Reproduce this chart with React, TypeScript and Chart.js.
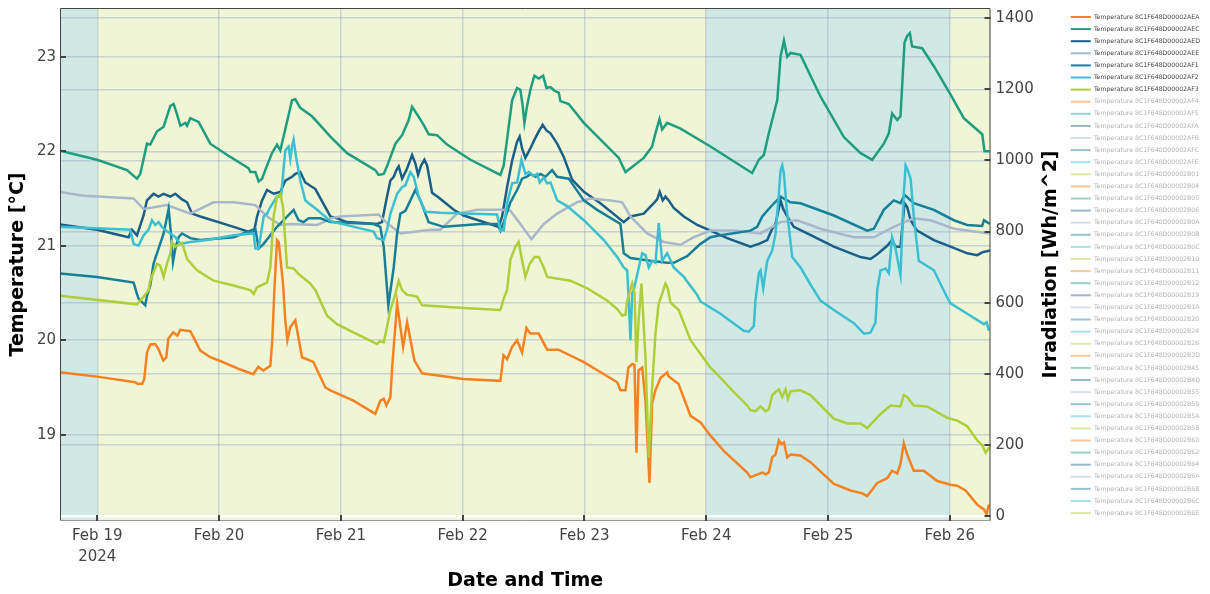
import React, { useEffect, useRef } from 'react';
import { Chart, registerables } from 'chart.js';

Chart.register(...registerables);

const FONT = "'DejaVu Sans', Verdana, sans-serif";

// ---------- data ----------
const sensorIds = [
  '8C1F648D00002AEA', '8C1F648D00002AEC', '8C1F648D00002AED', '8C1F648D00002AEE', '8C1F648D00002AF1',
  '8C1F648D00002AF2', '8C1F648D00002AF3', '8C1F648D00002AF4', '8C1F648D00002AF5', '8C1F648D00002AFA',
  '8C1F648D00002AFB', '8C1F648D00002AFC', '8C1F648D00002AFE', '8C1F648D00002B01', '8C1F648D00002B04',
  '8C1F648D00002B05', '8C1F648D00002B06', '8C1F648D00002B0A', '8C1F648D00002B0B', '8C1F648D00002B0C',
  '8C1F648D00002B10', '8C1F648D00002B11', '8C1F648D00002B12', '8C1F648D00002B19', '8C1F648D00002B1A',
  '8C1F648D00002B20', '8C1F648D00002B24', '8C1F648D00002B26', '8C1F648D00002B3D', '8C1F648D00002B45',
  '8C1F648D00002B4D', '8C1F648D00002B55', '8C1F648D00002B59', '8C1F648D00002B5A', '8C1F648D00002B5B',
  '8C1F648D00002B60', '8C1F648D00002B62', '8C1F648D00002B64', '8C1F648D00002B6A', '8C1F648D00002B6B',
  '8C1F648D00002B6C', '8C1F648D00002B6E',
];

const seriesColors = ['#f58220', '#1f9e7f', '#1a5f88', '#a9b7cb', '#177f98', '#3cbfd3', '#aecf3a'];
const fadedColors = [
  'rgba(245,130,32,0.45)', 'rgba(31,158,127,0.45)', 'rgba(26,95,136,0.45)', 'rgba(169,183,203,0.45)',
  'rgba(23,127,152,0.45)', 'rgba(60,191,211,0.45)', 'rgba(174,207,58,0.45)',
];

// [day of Feb 2024 (fractional), temperature °C]
const tempAEA: [number, number][] = [
  [18.694, 19.66], [18.998, 19.615], [19.312, 19.555], [19.329, 19.54], [19.370, 19.54], [19.386, 19.59],
  [19.408, 19.87], [19.435, 19.955], [19.476, 19.96], [19.501, 19.91], [19.542, 19.785], [19.567, 19.82],
  [19.583, 20.015], [19.624, 20.085], [19.657, 20.05], [19.682, 20.11], [19.764, 20.095], [19.846, 19.89],
  [19.928, 19.82], [20.010, 19.78], [20.175, 19.69], [20.281, 19.64], [20.322, 19.72], [20.363, 19.68],
  [20.421, 19.73], [20.437, 20.0], [20.454, 20.53], [20.476, 21.06], [20.490, 21.04], [20.525, 20.6],
  [20.544, 20.21], [20.561, 20.0], [20.585, 20.14], [20.626, 20.21], [20.681, 19.82], [20.774, 19.77],
  [20.873, 19.50], [20.914, 19.47], [21.103, 19.36], [21.283, 19.22], [21.324, 19.36], [21.352, 19.38],
  [21.374, 19.31], [21.407, 19.40], [21.421, 19.71], [21.462, 20.39], [21.511, 19.93], [21.544, 20.19],
  [21.604, 19.785], [21.667, 19.65], [22.006, 19.59], [22.310, 19.57], [22.335, 19.84], [22.365, 19.80],
  [22.406, 19.93], [22.447, 20.0], [22.488, 19.87], [22.524, 20.13], [22.556, 20.07], [22.625, 20.07],
  [22.694, 19.90], [22.786, 19.90], [22.992, 19.77], [23.269, 19.555], [23.296, 19.47], [23.337, 19.47],
  [23.361, 19.71], [23.392, 19.75], [23.411, 19.74], [23.427, 18.81], [23.444, 19.68], [23.474, 19.71],
  [23.501, 19.36], [23.534, 18.49], [23.556, 19.33], [23.583, 19.47], [23.624, 19.60], [23.679, 19.66],
  [23.690, 19.62], [23.772, 19.54], [23.871, 19.20], [23.953, 19.13], [24.035, 18.99], [24.144, 18.83],
  [24.336, 18.60], [24.363, 18.55], [24.460, 18.60], [24.487, 18.58], [24.514, 18.60], [24.542, 18.76],
  [24.569, 18.79], [24.596, 18.94], [24.616, 18.90], [24.638, 18.92], [24.665, 18.76], [24.692, 18.79],
  [24.774, 18.78], [24.856, 18.71], [25.048, 18.48], [25.185, 18.41], [25.281, 18.38], [25.322, 18.35],
  [25.404, 18.49], [25.486, 18.54], [25.526, 18.62], [25.568, 18.59], [25.595, 18.69], [25.622, 18.91],
  [25.650, 18.79], [25.704, 18.62], [25.786, 18.62], [25.897, 18.51], [26.006, 18.47], [26.061, 18.46],
  [26.129, 18.41], [26.225, 18.26], [26.280, 18.21], [26.302, 18.16], [26.321, 18.26],
];

const tempAEC: [number, number][] = [
  [18.694, 22.006], [18.998, 21.91], [19.244, 21.80], [19.326, 21.71], [19.353, 21.76], [19.408, 22.08],
  [19.435, 22.07], [19.490, 22.21], [19.545, 22.26], [19.600, 22.48], [19.627, 22.50], [19.655, 22.39],
  [19.682, 22.27], [19.723, 22.30], [19.737, 22.27], [19.764, 22.35], [19.832, 22.31], [19.928, 22.08],
  [20.092, 21.94], [20.243, 21.82], [20.257, 21.78], [20.298, 21.78], [20.325, 21.68], [20.353, 21.71],
  [20.394, 21.85], [20.435, 21.98], [20.476, 22.07], [20.503, 22.01], [20.536, 22.19], [20.599, 22.54],
  [20.626, 22.55], [20.667, 22.46], [20.763, 22.37], [20.914, 22.155], [21.051, 21.98], [21.283, 21.80],
  [21.310, 21.75], [21.352, 21.76], [21.379, 21.84], [21.448, 22.08], [21.503, 22.17], [21.557, 22.33],
  [21.585, 22.47], [21.626, 22.39], [21.680, 22.28], [21.721, 22.18], [21.790, 22.17], [21.872, 22.07],
  [22.064, 21.91], [22.310, 21.75], [22.337, 21.85], [22.406, 22.54], [22.447, 22.67], [22.474, 22.65],
  [22.493, 22.48], [22.507, 22.30], [22.529, 22.48], [22.556, 22.65], [22.589, 22.80], [22.625, 22.77],
  [22.661, 22.80], [22.688, 22.67], [22.721, 22.68], [22.754, 22.64], [22.789, 22.62], [22.803, 22.53],
  [22.871, 22.50], [22.995, 22.30], [23.282, 21.93], [23.337, 21.78], [23.378, 21.82], [23.487, 21.93],
  [23.556, 22.05], [23.583, 22.19], [23.616, 22.34], [23.638, 22.23], [23.679, 22.30], [23.789, 22.24],
  [24.035, 22.05], [24.363, 21.78], [24.377, 21.77], [24.432, 21.91], [24.473, 21.96], [24.514, 22.19],
  [24.555, 22.40], [24.583, 22.54], [24.610, 23.00], [24.638, 23.17], [24.665, 23.00], [24.692, 23.04],
  [24.774, 23.02], [24.938, 22.58], [25.130, 22.15], [25.267, 21.98], [25.363, 21.91], [25.458, 22.08],
  [25.499, 22.19], [25.526, 22.40], [25.568, 22.33], [25.595, 22.37], [25.628, 23.15], [25.650, 23.22],
  [25.672, 23.25], [25.690, 23.11], [25.773, 23.09], [25.869, 22.90], [26.006, 22.60], [26.115, 22.35],
  [26.266, 22.18], [26.285, 22.0], [26.329, 22.0],
];

const tempAED: [number, number][] = [
  [18.694, 21.225], [18.998, 21.17], [19.257, 21.09], [19.285, 21.17], [19.326, 21.11], [19.380, 21.32],
  [19.408, 21.48], [19.462, 21.55], [19.503, 21.52], [19.545, 21.55], [19.600, 21.52], [19.641, 21.55],
  [19.696, 21.49], [19.737, 21.46], [19.778, 21.34], [19.846, 21.31], [20.120, 21.20], [20.284, 21.13],
  [20.312, 21.31], [20.353, 21.48], [20.394, 21.59], [20.448, 21.55], [20.503, 21.57], [20.544, 21.69],
  [20.599, 21.73], [20.626, 21.76], [20.667, 21.78], [20.708, 21.67], [20.791, 21.60], [20.914, 21.31],
  [20.969, 21.29], [21.051, 21.25], [21.297, 21.23], [21.338, 21.25], [21.379, 21.52], [21.407, 21.69],
  [21.434, 21.73], [21.456, 21.80], [21.475, 21.84], [21.503, 21.71], [21.538, 21.80], [21.585, 21.96],
  [21.612, 21.87], [21.634, 21.75], [21.659, 21.85], [21.686, 21.91], [21.708, 21.85], [21.749, 21.56],
  [21.803, 21.51], [21.927, 21.38], [22.009, 21.32], [22.296, 21.20], [22.324, 21.31], [22.365, 21.62],
  [22.406, 21.90], [22.447, 22.10], [22.468, 22.155], [22.488, 22.03], [22.515, 21.93], [22.556, 22.03],
  [22.589, 22.12], [22.625, 22.21], [22.657, 22.28], [22.688, 22.22], [22.721, 22.19], [22.776, 22.08],
  [22.830, 21.94], [22.899, 21.70], [22.995, 21.57], [23.131, 21.45], [23.323, 21.25], [23.378, 21.31],
  [23.487, 21.34], [23.569, 21.45], [23.597, 21.49], [23.618, 21.57], [23.643, 21.48], [23.665, 21.52],
  [23.692, 21.48], [23.733, 21.40], [23.816, 21.31], [23.926, 21.22], [24.035, 21.16], [24.172, 21.08],
  [24.363, 20.99], [24.432, 21.02], [24.501, 21.06], [24.542, 21.18], [24.569, 21.23], [24.610, 21.48],
  [24.632, 21.39], [24.665, 21.31], [24.719, 21.20], [24.829, 21.13], [25.048, 20.99], [25.267, 20.88],
  [25.349, 20.86], [25.404, 20.91], [25.486, 21.00], [25.526, 21.06], [25.554, 20.99], [25.595, 20.99],
  [25.628, 21.45], [25.650, 21.41], [25.678, 21.27], [25.731, 21.16], [25.869, 21.06], [26.006, 20.99],
  [26.143, 20.92], [26.225, 20.90], [26.266, 20.93], [26.329, 20.95],
];

const tempAEE: [number, number][] = [
  [18.694, 21.57], [18.888, 21.53], [19.298, 21.50], [19.380, 21.39], [19.572, 21.43], [19.764, 21.34],
  [19.955, 21.46], [20.120, 21.46], [20.298, 21.43], [20.394, 21.31], [20.503, 21.22], [20.585, 21.23],
  [20.805, 21.22], [20.859, 21.25], [20.914, 21.29], [20.996, 21.31], [21.310, 21.33], [21.379, 21.24],
  [21.489, 21.13], [21.735, 21.17], [21.817, 21.17], [21.954, 21.34], [22.119, 21.38], [22.310, 21.38],
  [22.392, 21.37], [22.474, 21.23], [22.565, 21.07], [22.666, 21.23], [22.776, 21.34], [22.940, 21.46],
  [23.049, 21.50], [23.214, 21.48], [23.310, 21.46], [23.378, 21.31], [23.515, 21.13], [23.651, 21.04],
  [23.789, 21.01], [23.898, 21.09], [24.035, 21.16], [24.226, 21.16], [24.446, 21.13], [24.610, 21.25],
  [24.747, 21.27], [24.938, 21.18], [25.212, 21.09], [25.376, 21.09], [25.540, 21.20], [25.704, 21.29],
  [25.842, 21.27], [26.033, 21.18], [26.329, 21.13],
];

const tempAF1: [number, number][] = [
  [18.694, 20.705], [18.998, 20.67], [19.298, 20.61], [19.326, 20.49], [19.339, 20.44], [19.394, 20.37],
  [19.408, 20.47], [19.435, 20.58], [19.462, 20.81], [19.490, 20.92], [19.545, 21.13], [19.586, 21.39],
  [19.605, 21.13], [19.622, 20.83], [19.641, 20.97], [19.668, 21.09], [19.696, 21.13], [19.764, 21.08],
  [19.846, 21.06], [20.120, 21.09], [20.298, 21.18], [20.325, 20.97], [20.366, 21.02], [20.476, 21.20],
  [20.530, 21.27], [20.612, 21.38], [20.653, 21.27], [20.694, 21.25], [20.736, 21.29], [20.832, 21.29],
  [20.914, 21.25], [21.269, 21.23], [21.324, 21.20], [21.352, 20.99], [21.390, 20.37], [21.434, 20.77],
  [21.462, 21.13], [21.489, 21.34], [21.530, 21.37], [21.571, 21.48], [21.612, 21.59], [21.653, 21.48],
  [21.694, 21.34], [21.721, 21.25], [21.844, 21.20], [22.146, 21.23], [22.283, 21.23], [22.310, 21.16],
  [22.337, 21.25], [22.392, 21.46], [22.447, 21.59], [22.488, 21.71], [22.529, 21.73], [22.556, 21.76],
  [22.598, 21.73], [22.639, 21.76], [22.680, 21.73], [22.735, 21.80], [22.776, 21.73], [22.871, 21.71],
  [22.995, 21.48], [23.104, 21.38], [23.296, 21.23], [23.323, 20.92], [23.378, 20.87], [23.542, 20.84],
  [23.679, 20.82], [23.733, 20.82], [23.843, 20.89], [23.953, 21.02], [24.035, 21.09], [24.117, 21.11],
  [24.363, 21.16], [24.418, 21.20], [24.460, 21.31], [24.528, 21.41], [24.610, 21.52], [24.692, 21.46],
  [24.774, 21.45], [25.048, 21.32], [25.322, 21.16], [25.376, 21.18], [25.458, 21.38], [25.540, 21.48],
  [25.595, 21.45], [25.628, 21.54], [25.704, 21.45], [25.869, 21.38], [26.033, 21.27], [26.143, 21.22],
  [26.266, 21.21], [26.280, 21.27], [26.329, 21.23],
];

const tempAF2: [number, number][] = [
  [18.694, 21.20], [19.271, 21.17], [19.298, 21.02], [19.339, 21.00], [19.380, 21.11], [19.421, 21.17],
  [19.449, 21.27], [19.476, 21.22], [19.503, 21.25], [19.531, 21.20], [19.564, 21.16], [19.600, 21.13],
  [19.641, 21.09], [19.682, 21.02], [19.764, 21.04], [19.901, 21.06], [20.120, 21.11], [20.284, 21.13],
  [20.298, 20.97], [20.325, 20.97], [20.366, 21.31], [20.394, 21.34], [20.421, 21.41], [20.476, 21.52],
  [20.509, 21.52], [20.544, 22.01], [20.571, 22.05], [20.585, 21.92], [20.599, 22.05], [20.612, 22.12],
  [20.632, 21.94], [20.667, 21.69], [20.708, 21.48], [20.736, 21.45], [20.805, 21.38], [20.914, 21.26],
  [21.269, 21.15], [21.297, 21.08], [21.352, 21.06], [21.379, 21.17], [21.407, 21.34], [21.462, 21.55],
  [21.503, 21.62], [21.530, 21.64], [21.571, 21.78], [21.598, 21.73], [21.639, 21.52], [21.694, 21.36],
  [21.817, 21.35], [22.009, 21.34], [22.283, 21.33], [22.310, 21.16], [22.337, 21.16], [22.365, 21.45],
  [22.406, 21.66], [22.447, 21.67], [22.483, 21.91], [22.515, 21.76], [22.543, 21.78], [22.584, 21.74],
  [22.611, 21.76], [22.633, 21.67], [22.666, 21.72], [22.694, 21.66], [22.721, 21.67], [22.776, 21.48],
  [22.858, 21.42], [22.995, 21.27], [23.159, 21.06], [23.269, 20.88], [23.323, 20.77], [23.351, 20.74],
  [23.364, 20.40], [23.378, 20.0], [23.392, 20.5], [23.405, 20.53], [23.446, 20.77], [23.474, 20.92],
  [23.501, 20.90], [23.528, 20.77], [23.556, 20.84], [23.583, 20.82], [23.610, 21.24], [23.638, 20.84],
  [23.679, 20.92], [23.706, 20.85], [23.733, 20.77], [23.816, 20.67], [23.926, 20.48], [23.953, 20.41],
  [24.117, 20.28], [24.308, 20.10], [24.349, 20.09], [24.391, 20.15], [24.404, 20.42], [24.432, 20.71],
  [24.446, 20.74], [24.468, 20.55], [24.501, 20.84], [24.542, 20.95], [24.569, 21.13], [24.596, 21.55],
  [24.610, 21.80], [24.624, 21.85], [24.638, 21.76], [24.659, 21.41], [24.678, 21.20], [24.706, 20.88],
  [24.774, 20.77], [24.856, 20.59], [24.938, 20.42], [25.048, 20.32], [25.212, 20.18], [25.295, 20.07],
  [25.349, 20.08], [25.390, 20.19], [25.404, 20.53], [25.431, 20.74], [25.472, 20.76], [25.499, 20.71],
  [25.526, 21.09], [25.554, 20.97], [25.595, 20.69], [25.622, 21.55], [25.637, 21.85], [25.655, 21.80],
  [25.678, 21.71], [25.704, 21.31], [25.745, 20.84], [25.869, 20.74], [25.979, 20.45], [26.006, 20.39],
  [26.143, 20.28], [26.280, 20.17], [26.302, 20.19], [26.321, 20.10],
];

const tempAF3: [number, number][] = [
  [18.694, 20.47], [19.326, 20.38], [19.367, 20.44], [19.421, 20.53], [19.435, 20.63], [19.490, 20.81],
  [19.517, 20.79], [19.545, 20.67], [19.572, 20.81], [19.600, 20.92], [19.614, 21.04], [19.641, 20.99],
  [19.696, 21.03], [19.737, 20.86], [19.819, 20.74], [19.955, 20.63], [20.120, 20.58], [20.257, 20.53],
  [20.284, 20.49], [20.312, 20.56], [20.394, 20.61], [20.421, 20.77], [20.448, 21.31], [20.476, 21.52],
  [20.503, 21.55], [20.525, 21.41], [20.558, 20.77], [20.612, 20.76], [20.653, 20.70], [20.749, 20.60],
  [20.791, 20.53], [20.887, 20.26], [20.914, 20.23], [20.969, 20.17], [21.078, 20.10], [21.187, 20.03],
  [21.297, 19.96], [21.319, 19.99], [21.352, 19.98], [21.379, 20.14], [21.407, 20.32], [21.448, 20.49],
  [21.475, 20.63], [21.503, 20.53], [21.544, 20.48], [21.598, 20.47], [21.626, 20.46], [21.667, 20.37],
  [22.009, 20.34], [22.310, 20.32], [22.337, 20.44], [22.365, 20.53], [22.392, 20.85], [22.433, 20.99],
  [22.460, 21.04], [22.483, 20.88], [22.515, 20.67], [22.551, 20.81], [22.589, 20.88], [22.625, 20.88],
  [22.666, 20.77], [22.694, 20.67], [22.885, 20.63], [23.022, 20.55], [23.186, 20.42], [23.269, 20.33],
  [23.310, 20.26], [23.337, 20.27], [23.351, 20.42], [23.392, 20.6], [23.411, 20.5], [23.427, 19.77],
  [23.446, 20.24], [23.468, 20.6], [23.501, 19.82], [23.528, 18.76], [23.556, 19.50], [23.583, 20.07],
  [23.610, 20.39], [23.638, 20.49], [23.665, 20.60], [23.684, 20.55], [23.706, 20.40], [23.774, 20.32],
  [23.871, 20.00], [23.953, 19.855], [24.035, 19.71], [24.090, 19.64], [24.213, 19.47], [24.336, 19.31],
  [24.363, 19.26], [24.404, 19.25], [24.446, 19.30], [24.487, 19.25], [24.514, 19.27], [24.542, 19.42],
  [24.596, 19.48], [24.624, 19.40], [24.651, 19.48], [24.670, 19.38], [24.692, 19.46], [24.774, 19.47],
  [24.856, 19.42], [25.048, 19.17], [25.158, 19.12], [25.267, 19.12], [25.322, 19.07], [25.431, 19.22],
  [25.513, 19.31], [25.595, 19.30], [25.622, 19.42], [25.650, 19.40], [25.704, 19.31], [25.814, 19.30],
  [25.979, 19.18], [26.061, 19.15], [26.143, 19.09], [26.225, 18.94], [26.266, 18.89], [26.294, 18.81],
  [26.329, 18.87],
];

const xTickValues = [19, 20, 21, 22, 23, 24, 25, 26];
const xTickLabels: (string | string[])[] = [
  ['Feb 19', '2024'], 'Feb 20', 'Feb 21', 'Feb 22', 'Feb 23', 'Feb 24', 'Feb 25', 'Feb 26',
];
const tempTicks = [19, 20, 21, 22, 23];
const irrTicks = [0, 200, 400, 600, 800, 1000, 1200, 1400];

// background shading bands (day of Feb)
const shadeStarts = [18.694, 19, 24, 26];
const shadeEnds = [19, 24, 26, 26.334];
const shadeColors = ['#d0e9e4', '#f0f5d6', '#d0e9e4', '#f0f5d6'];

const X_MIN = 18.694;
const X_MAX = 26.334;
const T_MIN = 18.087;
const T_MAX = 23.516;
const I_MIN = -14;
const I_MAX = 1428.7;

const PAD_R = 0;
const PLOT_RIGHT = 990.5;

const GRID = 'rgba(150,165,190,0.42)';

const zeroPad = (s: any) => {
  s.paddingTop = 0;
  s.paddingBottom = 0;
  s.paddingLeft = 0;
  s.paddingRight = 0;
};

export default function App() {
  const ref = useRef<HTMLCanvasElement>(null);

  useEffect(() => {
    const mainSeries = [tempAEA, tempAEC, tempAED, tempAEE, tempAF1, tempAF2, tempAF3];
    const datasets = sensorIds.map((id, i) => {
      const col = i < 7 ? seriesColors[i] : fadedColors[i % 7];
      return {
        label: 'Temperature ' + id,
        data: i < 7 ? mainSeries[i].map(([x, y]) => ({ x, y })) : [],
        borderColor: col,
        backgroundColor: col,
        borderWidth: 2.5,
        pointRadius: 0,
        tension: 0,
        yAxisID: 'y',
        order: 100 - i,
      };
    });

    const decor = {
      id: 'decor',
      beforeDraw(chart: any) {
        const { ctx, chartArea: a, scales } = chart;
        ctx.save();
        for (let i = 0; i < shadeStarts.length; i++) {
          const x0 = scales.x.getPixelForValue(shadeStarts[i]);
          const x1 = scales.x.getPixelForValue(shadeEnds[i]);
          ctx.fillStyle = shadeColors[i];
          ctx.fillRect(x0, a.top, x1 - x0, a.bottom - a.top);
        }
        ctx.restore();
      },
      afterDraw(chart: any) {
        const { ctx, chartArea: a, scales } = chart;
        ctx.save();
        // frame
        ctx.lineWidth = 1;
        ctx.strokeStyle = '#444';
        ctx.beginPath();
        ctx.moveTo(a.left + 0.5, a.bottom);
        ctx.lineTo(a.left + 0.5, a.top + 0.5);
        ctx.lineTo(a.right - 0.5, a.top + 0.5);
        ctx.lineTo(a.right - 0.5, a.bottom);
        ctx.stroke();
        ctx.strokeStyle = '#999';
        ctx.beginPath();
        ctx.moveTo(a.left, a.bottom - 0.5);
        ctx.lineTo(a.right, a.bottom - 0.5);
        ctx.stroke();
        // inside tick marks
        ctx.strokeStyle = '#444';
        ctx.lineWidth = 2;
        ctx.beginPath();
        for (const v of tempTicks) {
          const y = Math.round(scales.y.getPixelForValue(v));
          ctx.moveTo(a.left, y);
          ctx.lineTo(a.left + 6, y);
        }
        for (const v of irrTicks) {
          const y = Math.round(scales.y1.getPixelForValue(v));
          ctx.moveTo(a.right - 6, y);
          ctx.lineTo(a.right, y);
        }
        for (const v of xTickValues) {
          const x = Math.round(scales.x.getPixelForValue(v));
          ctx.moveTo(x, a.bottom);
          ctx.lineTo(x, a.bottom - 6);
        }
        ctx.stroke();
        // right axis title (reads bottom-to-top)
        ctx.translate(a.right + 60.5, (a.top + a.bottom) / 2);
        ctx.rotate(-Math.PI / 2);
        ctx.font = `bold 19px ${FONT}`;
        ctx.fillStyle = '#000';
        ctx.textAlign = 'center';
        ctx.textBaseline = 'middle';
        ctx.fillText('Irradiation [Wh/m^2]', 0, 0);
        ctx.restore();
      },
    };

    const chart = new Chart(ref.current as HTMLCanvasElement, {
      type: 'line',
      data: { datasets: datasets as any },
      plugins: [decor],
      options: {
        responsive: false,
        animation: false,
        parsing: true,
        layout: { padding: { top: 8, left: 0, right: PAD_R, bottom: 0 } },
        plugins: {
          tooltip: { enabled: false },
          legend: {
            position: 'right',
            align: 'start',
            labels: {
              boxWidth: 20,
              boxHeight: 2,
              padding: 5.9,
              font: { family: FONT, size: 6.2 },
              generateLabels: (c: any) =>
                c.data.datasets.map((ds: any, i: number) => ({
                  text: ds.label,
                  fillStyle: ds.borderColor,
                  strokeStyle: ds.borderColor,
                  lineWidth: 0,
                  hidden: false,
                  datasetIndex: i,
                  fontColor: i < 7 ? '#444' : '#b2b2b2',
                })),
            },
          },
        },
        scales: {
          x: {
            type: 'linear',
            position: 'bottom',
            min: X_MIN,
            max: X_MAX,
            afterFit: (s: any) => { s.height = 73; zeroPad(s); },
            afterBuildTicks: (s: any) => { s.ticks = xTickValues.map((v) => ({ value: v })); },
            grid: { color: GRID, lineWidth: 1.5, drawTicks: false },
            border: { display: false },
            ticks: {
              autoSkip: false,
              maxRotation: 0,
              padding: 5,
              color: '#444',
              font: { family: FONT, size: 15, lineHeight: 1.38 },
              callback: (v: any) => {
                const idx = xTickValues.indexOf(Number(v));
                return idx >= 0 ? xTickLabels[idx] : '';
              },
            },
            title: {
              display: true,
              text: 'Date and Time',
              color: '#000',
              font: { family: FONT, size: 19, weight: 'bold' },
              padding: { top: 0, bottom: 2 },
            },
          },
          y: {
            type: 'linear',
            position: 'left',
            min: T_MIN,
            max: T_MAX,
            afterFit: (s: any) => { s.width = 60; zeroPad(s); },
            afterBuildTicks: (s: any) => { s.ticks = tempTicks.map((v) => ({ value: v })); },
            grid: { color: GRID, lineWidth: 1.5, drawTicks: false },
            border: { display: false },
            ticks: {
              padding: 4,
              color: '#444',
              font: { family: FONT, size: 15 },
              callback: (v: any) => String(v),
            },
            title: {
              display: true,
              text: 'Temperature [°C]',
              color: '#000',
              font: { family: FONT, size: 19, weight: 'bold' },
              padding: { top: 7, bottom: 0 },
            },
          },
          y1: {
            type: 'linear',
            position: 'right',
            min: I_MIN,
            max: I_MAX,
            afterFit: (s: any) => {
              const lw = s.chart.legend ? s.chart.legend.width : 0;
              s.width = s.chart.width - PAD_R - lw - PLOT_RIGHT;
              zeroPad(s);
            },
            afterBuildTicks: (s: any) => { s.ticks = irrTicks.map((v) => ({ value: v })); },
            grid: {
              drawTicks: false,
              lineWidth: (c: any) => (c.tick && c.tick.value === 0 ? 2.5 : 1.5),
              color: (c: any) => (c.tick && c.tick.value === 0 ? 'rgba(255,255,255,0.9)' : GRID),
            },
            border: { display: false },
            ticks: {
              padding: 5,
              color: '#444',
              font: { family: FONT, size: 15 },
              callback: (v: any) => String(v),
            },
          },
        },
      } as any,
    });
    return () => chart.destroy();
  }, []);

  return (
    <div style={{ position: 'absolute', left: 0, top: 0, width: 1210, height: 594, background: '#fff' }}>
      <canvas ref={ref} width={1210} height={594} />
    </div>
  );
}
